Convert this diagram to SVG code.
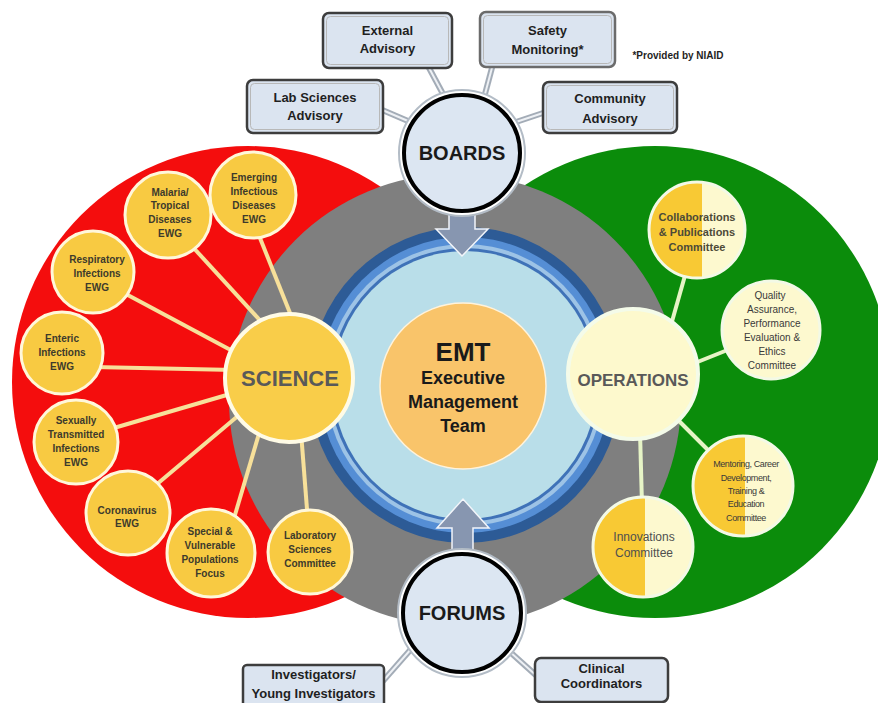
<svg xmlns="http://www.w3.org/2000/svg" width="878" height="703" viewBox="0 0 878 703">
<style>
.t{font-family:"Liberation Sans",Arial,sans-serif;text-anchor:middle}
.bo{fill:#dbe4f0;stroke:#3d3d3d;stroke-width:2.5}
.bi{fill:none;stroke:#b8b8b8;stroke-width:1}
.bt{font-size:13px;font-weight:bold;fill:#1f1f1f}
.sat{fill:#f8ca42;stroke:#fff7da;stroke-width:3}
.st{font-size:10px;font-weight:bold;fill:#3d3a2c}
.yl{stroke:#f7e09a;stroke-width:4}
.gl{stroke:#e6f4c6;stroke-width:4}
.c1{stroke:#a3acb7;stroke-width:6}
.c2{stroke:#eef1f5;stroke-width:2}
.half{fill:#f8c934}
.cream{fill:#fdf9cf}
.ring{fill:none;stroke:#f3f9e6;stroke-width:3}
.ot{font-size:11px;font-weight:bold;fill:#4d4a38}
.arr{fill:#8796b0;stroke:#f2f5fa;stroke-width:1.5}
.hub1{fill:#ffffff;stroke:#b3bcc6;stroke-width:2}
.hub2{fill:#dce6f2;stroke:#000;stroke-width:4}
.ht{font-size:20px;font-weight:bold;fill:#1a1a1a}
</style>
<rect width="878" height="703" fill="#ffffff"/>
<g id="background">
  <circle cx="248" cy="382" r="236" fill="#f40d0d"/>
  <circle cx="655" cy="382" r="236" fill="#0b8c0b"/>
  <circle cx="455" cy="400" r="226" fill="#7f7f7f"/>
  <ellipse cx="465" cy="385" rx="156" ry="158" fill="#2d5b96"/>
  <ellipse cx="465" cy="385" rx="146" ry="148" fill="#558ed5"/>
  <ellipse cx="465" cy="385" rx="139" ry="141" fill="#9dc3e6"/>
  <ellipse cx="465" cy="385" rx="135" ry="137" fill="#3f72b8"/>
  <ellipse cx="465" cy="385" rx="132" ry="134" fill="#b9dee9"/>
</g>
<g id="connectors">
  <line class="yl" x1="256" y1="228" x2="294" y2="323"/>
  <line class="yl" x1="190" y1="244" x2="267" y2="328"/>
  <line class="yl" x1="124" y1="293" x2="240" y2="355"/>
  <line class="yl" x1="93" y1="367" x2="235" y2="370"/>
  <line class="yl" x1="107" y1="430" x2="237" y2="392"/>
  <line class="yl" x1="150" y1="490" x2="245" y2="410"/>
  <line class="yl" x1="232" y1="525" x2="261" y2="427"/>
  <line class="yl" x1="308" y1="522" x2="301" y2="432"/>
  <line class="gl" x1="671" y1="325" x2="686" y2="272"/>
  <line class="gl" x1="690" y1="365" x2="735" y2="347"/>
  <line class="gl" x1="674" y1="416" x2="714" y2="456"/>
  <line class="gl" x1="640" y1="432" x2="642" y2="505"/>
  <line class="c1" x1="428" y1="66" x2="443" y2="94"/>
  <line class="c2" x1="428" y1="66" x2="443" y2="94"/>
  <line class="c1" x1="493" y1="64" x2="485" y2="94"/>
  <line class="c2" x1="493" y1="64" x2="485" y2="94"/>
  <line class="c1" x1="380" y1="109" x2="408" y2="121"/>
  <line class="c2" x1="380" y1="109" x2="408" y2="121"/>
  <line class="c1" x1="546" y1="112" x2="516" y2="122"/>
  <line class="c2" x1="546" y1="112" x2="516" y2="122"/>
  <line class="c1" x1="383" y1="681" x2="412" y2="648"/>
  <line class="c2" x1="383" y1="681" x2="412" y2="648"/>
  <line class="c1" x1="509" y1="651" x2="539" y2="678"/>
  <line class="c2" x1="509" y1="651" x2="539" y2="678"/>
  <path class="arr" d="M449,208 H475 V229 H488 L462,256 L436,229 H449 Z"/>
  <path class="arr" d="M452,555 V528 H437 L463,499 L489,528 H473 V555 Z"/>
</g>
<g id="emt">
  <circle cx="463" cy="386" r="83" fill="#f9c46a" stroke="#fff3dc" stroke-width="1.5"/>
  <text class="t" x="463" y="361" font-size="26" font-weight="bold" fill="#1a1a1a">EMT</text>
  <text class="t" x="463" y="384" font-size="18" font-weight="bold" fill="#1a1a1a">Executive</text>
  <text class="t" x="463" y="408" font-size="18" font-weight="bold" fill="#1a1a1a">Management</text>
  <text class="t" x="463" y="432" font-size="18" font-weight="bold" fill="#1a1a1a">Team</text>
</g>
<g id="boards">
  <circle class="hub1" cx="462" cy="153" r="63"/>
  <circle class="hub2" cx="462" cy="153" r="58"/>
  <text class="t ht" x="462" y="160">BOARDS</text>
</g>
<g id="forums">
  <circle class="hub1" cx="462" cy="613" r="64"/>
  <circle class="hub2" cx="462" cy="613" r="59"/>
  <text class="t ht" x="462" y="620">FORUMS</text>
</g>
<g id="external-advisory">
  <rect class="bo" x="323" y="13" width="129" height="55" rx="6"/>
  <rect class="bi" x="326.5" y="16.5" width="122" height="48" rx="4"/>
  <text class="t bt" x="387.5" y="34.5">External</text>
  <text class="t bt" x="387.5" y="52.5">Advisory</text>
</g>
<g id="safety-monitoring">
  <rect class="bo" x="480" y="12" width="135" height="55" rx="6" style="stroke:#6b6b6b"/>
  <rect class="bi" x="483.5" y="15.5" width="128" height="48" rx="4"/>
  <text class="t bt" x="547.5" y="34.5">Safety</text>
  <text class="t bt" x="547.5" y="54">Monitoring*</text>
</g>
<g id="lab-sciences-advisory">
  <rect class="bo" x="247" y="80" width="136" height="53" rx="6"/>
  <rect class="bi" x="250.5" y="83.5" width="129" height="46" rx="4"/>
  <text class="t bt" x="315" y="101.5">Lab Sciences</text>
  <text class="t bt" x="315" y="119.5">Advisory</text>
</g>
<g id="community-advisory">
  <rect class="bo" x="543" y="82" width="134" height="51" rx="6"/>
  <rect class="bi" x="546.5" y="85.5" width="127" height="44" rx="4"/>
  <text class="t bt" x="610" y="102.5">Community</text>
  <text class="t bt" x="610" y="122.5">Advisory</text>
</g>
<text class="t" x="678" y="59" font-size="10" font-weight="bold" fill="#1f1f1f">*Provided by NIAID</text>
<g id="investigators">
  <rect class="bo" x="243" y="665" width="141" height="48" rx="4"/>
  <text class="t bt" x="313.5" y="679" font-size="12">Investigators/</text>
  <text class="t bt" x="313.5" y="698" font-size="12">Young Investigators</text>
</g>
<g id="clinical-coordinators">
  <rect class="bo" x="535" y="658" width="133" height="44" rx="6"/>
  <text class="t bt" x="601.5" y="673" font-size="12">Clinical</text>
  <text class="t bt" x="601.5" y="688" font-size="12">Coordinators</text>
</g>
<g id="science">
  <circle cx="289" cy="378" r="64" fill="#f9cd49" stroke="#fffbe6" stroke-width="4"/>
  <text class="t" x="290" y="386" font-size="22" font-weight="bold" fill="#595959">SCIENCE</text>
</g>
<g id="emerging">
  <circle class="sat" cx="253" cy="195" r="43"/>
  <text class="t st"><tspan x="254" y="181">Emerging</tspan><tspan x="254" y="195">Infectious</tspan><tspan x="254" y="209">Diseases</tspan><tspan x="254" y="223">EWG</tspan></text>
</g>
<g id="malaria">
  <circle class="sat" cx="168" cy="215" r="43"/>
  <text class="t st"><tspan x="170" y="196">Malaria/</tspan><tspan x="170" y="209">Tropical</tspan><tspan x="170" y="223">Diseases</tspan><tspan x="170" y="237">EWG</tspan></text>
</g>
<g id="respiratory">
  <circle class="sat" cx="93" cy="272" r="41"/>
  <text class="t st"><tspan x="97" y="263">Respiratory</tspan><tspan x="97" y="277">Infections</tspan><tspan x="97" y="291">EWG</tspan></text>
</g>
<g id="enteric">
  <circle class="sat" cx="62" cy="353" r="41"/>
  <text class="t st"><tspan x="62" y="342">Enteric</tspan><tspan x="62" y="356">Infections</tspan><tspan x="62" y="370">EWG</tspan></text>
</g>
<g id="sexually">
  <circle class="sat" cx="76" cy="442" r="42"/>
  <text class="t st"><tspan x="76" y="424">Sexually</tspan><tspan x="76" y="438">Transmitted</tspan><tspan x="76" y="452">Infections</tspan><tspan x="76" y="466">EWG</tspan></text>
</g>
<g id="coronavirus">
  <circle class="sat" cx="128" cy="513" r="42"/>
  <text class="t st"><tspan x="127" y="514">Coronavirus</tspan><tspan x="127" y="527">EWG</tspan></text>
</g>
<g id="special">
  <circle class="sat" cx="211" cy="553" r="44"/>
  <text class="t st"><tspan x="210" y="535">Special &amp;</tspan><tspan x="210" y="549">Vulnerable</tspan><tspan x="210" y="563">Populations</tspan><tspan x="210" y="577">Focus</tspan></text>
</g>
<g id="laboratory">
  <circle class="sat" cx="310" cy="552" r="42"/>
  <text class="t st"><tspan x="310" y="539">Laboratory</tspan><tspan x="310" y="553">Sciences</tspan><tspan x="310" y="567">Committee</tspan></text>
</g>
<g id="operations">
  <circle cx="633" cy="374" r="65" fill="#fdf9cd" stroke="#f4fbe9" stroke-width="4"/>
  <text class="t" x="633" y="386" font-size="17" font-weight="bold" fill="#595959">OPERATIONS</text>
</g>
<g id="collaborations">
  <circle class="cream" cx="697" cy="230" r="48"/>
  <path class="half" d="M702,182.3 A48,48 0 1 0 702,277.7 Z"/>
  <circle class="ring" cx="697" cy="230" r="48"/>
  <text class="t ot"><tspan x="697" y="221">Collaborations</tspan><tspan x="697" y="236">&amp; Publications</tspan><tspan x="697" y="251">Committee</tspan></text>
</g>
<g id="quality">
  <circle class="cream" cx="771" cy="330" r="49"/>
  <circle class="ring" cx="771" cy="330" r="49"/>
  <text class="t" font-size="10" fill="#3a3a3a"><tspan x="770" y="299">Quality</tspan><tspan x="772" y="313">Assurance,</tspan><tspan x="772" y="327">Performance</tspan><tspan x="772" y="341">Evaluation &amp;</tspan><tspan x="772" y="355">Ethics</tspan><tspan x="772" y="369">Committee</tspan></text>
</g>
<g id="mentoring">
  <circle class="cream" cx="743" cy="486" r="50"/>
  <path class="half" d="M745,436.04 A50,50 0 1 0 745,535.96 Z"/>
  <circle class="ring" cx="743" cy="486" r="50"/>
  <text class="t" font-size="9" fill="#3a3a3a" letter-spacing="-0.4"><tspan x="746" y="467">Mentoring, Career</tspan><tspan x="746" y="481">Development,</tspan><tspan x="746" y="494">Training &amp;</tspan><tspan x="746" y="507">Education</tspan><tspan x="746" y="521">Committee</tspan></text>
</g>
<g id="innovations">
  <circle class="cream" cx="643" cy="547" r="50"/>
  <path class="half" d="M645,497.04 A50,50 0 1 0 645,596.96 Z"/>
  <circle class="ring" cx="643" cy="547" r="50"/>
  <text class="t" font-size="12" fill="#4f4f4f"><tspan x="644" y="541">Innovations</tspan><tspan x="644" y="557">Committee</tspan></text>
</g>
</svg>
